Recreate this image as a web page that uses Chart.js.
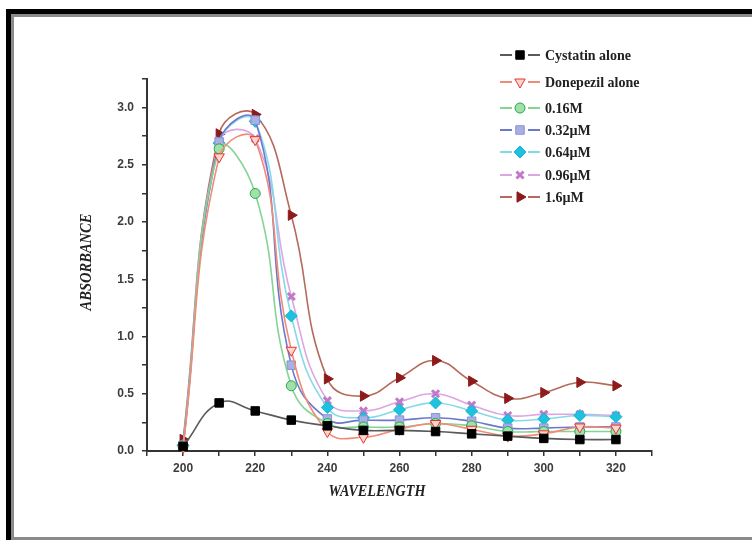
<!DOCTYPE html>
<html>
<head>
<meta charset="utf-8">
<title>Absorbance vs wavelength</title>
<script src="https://cdn.jsdelivr.net/npm/chart.js@4.4.1/dist/chart.umd.min.js"></script>
<style>
  html, body { margin: 0; padding: 0; background: #fff; overflow: hidden; }
  #wrap { position: relative; width: 752px; height: 540px; overflow: hidden; background: #fff; }
  .frame-out { position: absolute; left: 6px; top: 9px; width: 800px; height: 600px;
    border-left: 5px solid #000; border-top: 5px solid #000; }
  .frame-in { position: absolute; left: 11px; top: 14px; width: 800px; height: 520px;
    border-left: 3px solid #8a8a8a; border-top: 3px solid #8a8a8a; border-bottom: 3px solid #8a8a8a; }
  #chart { position: absolute; left: 0; top: 0; }
</style>
</head>
<body>
<div id="wrap">
  <div class="frame-out"></div>
  <div class="frame-in"></div>
  <canvas id="chart" width="752" height="540"></canvas>
</div>
<script>
// wavelength (nm) and absorbance
var wavelengths = [200, 210, 220, 230, 240, 250, 260, 270, 280, 290, 300, 310, 320];

var seriesLabels = ['Cystatin alone', 'Donepezil alone', '0.16M', '0.32\u00b5M', '0.64\u00b5M', '0.96\u00b5M', '1.6\u00b5M'];

var cystatin  = [0.04, 0.42, 0.35, 0.27, 0.22, 0.18, 0.18, 0.17, 0.15, 0.13, 0.11, 0.10, 0.10];
var donepezil = [0.03, 2.57, 2.72, 0.88, 0.17, 0.12, 0.19, 0.24, 0.19, 0.13, 0.15, 0.21, 0.20];
var conc016   = [0.04, 2.64, 2.25, 0.57, 0.24, 0.21, 0.21, 0.24, 0.22, 0.17, 0.17, 0.17, 0.17];
var conc032   = [0.05, 2.70, 2.89, 0.75, 0.28, 0.27, 0.27, 0.29, 0.26, 0.20, 0.20, 0.21, 0.21];
var conc064   = [0.05, 2.69, 2.88, 1.18, 0.38, 0.29, 0.36, 0.42, 0.35, 0.27, 0.28, 0.31, 0.30];
var conc096   = [0.05, 2.71, 2.73, 1.35, 0.44, 0.35, 0.43, 0.50, 0.40, 0.31, 0.32, 0.32, 0.31];
var conc16    = [0.10, 2.77, 2.94, 2.06, 0.63, 0.48, 0.64, 0.79, 0.61, 0.46, 0.51, 0.60, 0.57];

var xTickLabels = [200, 220, 240, 260, 280, 300, 320];
var yTickLabels = [0.0, 0.5, 1.0, 1.5, 2.0, 2.5, 3.0];

var allSeries = [cystatin, donepezil, conc016, conc032, conc064, conc096, conc16];

// look of each series: line colour, marker fill, marker edge, marker shape
var looks = [
  { line: '#5a5a5a', fill: '#000000', edge: '#000000', shape: 'rect', rot: 0, r: 6 },
  { line: '#f28a78', fill: '#ffd6cf', edge: '#e8332a', shape: 'triangle', rot: 180, r: 6 },
  { line: '#86d494', fill: '#9fe0ad', edge: '#22a845', shape: 'circle', rot: 0, r: 5 },
  { line: '#6c78cc', fill: '#a9b0e4', edge: '#8891d6', shape: 'rect', rot: 0, r: 6 },
  { line: '#86d9e8', fill: '#1cc2de', edge: '#14b4d0', shape: 'rectRot', rot: 0, r: 6 },
  { line: '#dca6e2', fill: '#d49ad8', edge: '#c07ac8', shape: 'crossRot', rot: 0, r: 5 },
  { line: '#b56b5c', fill: '#8e1b1b', edge: '#8e1b1b', shape: 'triangle', rot: 90, r: 6 }
];

function makeSet(i) {
  var lk = looks[i];
  return {
    label: seriesLabels[i],
    data: wavelengths.map(function (w, k) { return { x: w, y: allSeries[i][k] }; }),
    borderColor: lk.line,
    borderWidth: 1.6,
    tension: 0.45,
    pointStyle: lk.shape,
    pointRotation: lk.rot,
    pointRadius: lk.r,
    pointBackgroundColor: lk.fill,
    pointBorderColor: lk.edge,
    pointBorderWidth: lk.shape === 'crossRot' ? 3 : 1,
    clip: false
  };
}

var datasets = [];
for (var i = 0; i < allSeries.length; i++) {
  datasets.push(makeSet(i));
}

// legend drawn in the upper right, line - marker - line like the original
var legendPlugin = {
  id: 'sideLegend',
  afterDraw: function (chart) {
    var ctx = chart.ctx;
    var rows = [55, 82, 108, 130, 152, 175, 197];
    ctx.save();
    chart.data.datasets.forEach(function (ds, i) {
      var y = rows[i];
      var lk = looks[i];
      ctx.strokeStyle = lk.line;
      ctx.lineWidth = 2;
      ctx.beginPath();
      ctx.moveTo(500, y); ctx.lineTo(512, y);
      ctx.moveTo(528, y); ctx.lineTo(540, y);
      ctx.stroke();
      ctx.fillStyle = lk.fill;
      ctx.strokeStyle = lk.edge;
      ctx.lineWidth = lk.shape === 'crossRot' ? 3 : 1;
      Chart.helpers.drawPoint(ctx, { pointStyle: lk.shape, radius: lk.r, rotation: lk.rot, borderWidth: ctx.lineWidth }, 520, y);
      ctx.fillStyle = '#222';
      ctx.font = 'bold 14px "Liberation Serif", "Times New Roman", serif';
      ctx.textAlign = 'left';
      ctx.textBaseline = 'middle';
      ctx.fillText(ds.label, 545, y + 1);
    });
    ctx.restore();
  }
};

// axis titles, narrow bold italic
var titlePlugin = {
  id: 'axisTitles',
  afterDraw: function (chart) {
    var ctx = chart.ctx;
    ctx.save();
    ctx.fillStyle = '#222';
    ctx.font = 'bold italic 16px "Liberation Serif", "Times New Roman", serif';
    ctx.textAlign = 'center';
    ctx.textBaseline = 'middle';

    var t = 'WAVELENGTH';
    var k = 97 / ctx.measureText(t).width;
    ctx.save();
    ctx.translate(377, 492);
    ctx.scale(k, 1);
    ctx.fillText(t, 0, 0);
    ctx.restore();

    t = 'ABSORBANCE';
    k = 97 / ctx.measureText(t).width;
    ctx.save();
    ctx.translate(87, 262);
    ctx.rotate(-Math.PI / 2);
    ctx.scale(k, 1);
    ctx.fillText(t, 0, 0);
    ctx.restore();

    ctx.restore();
  }
};

var tickFont = { family: '"Liberation Sans", Arial, sans-serif', weight: 'bold', size: 12 };

new Chart(document.getElementById('chart').getContext('2d'), {
  type: 'line',
  data: { datasets: datasets },
  options: {
    responsive: false,
    animation: false,
    devicePixelRatio: 1,
    layout: { padding: { left: 0, right: 100, top: 79, bottom: 0 } },
    plugins: {
      legend: { display: false },
      tooltip: { enabled: false }
    },
    scales: {
      x: {
        type: 'linear',
        min: 190,
        max: 330,
        afterFit: function (s) { s.height = 89; },
        ticks: {
          stepSize: 10,
          autoSkip: false,
          maxRotation: 0,
          padding: 5,
          color: '#3c3c3c',
          font: tickFont,
          callback: function (v) {
            return xTickLabels.indexOf(v) >= 0 ? String(v) : '';
          }
        },
        grid: { drawOnChartArea: false, drawTicks: true, tickLength: 5, color: '#333', lineWidth: 1.5 },
        border: { color: '#333', width: 2 }
      },
      y: {
        min: 0,
        max: 3.25,
        afterFit: function (s) { s.width = 147; },
        ticks: {
          stepSize: 0.25,
          autoSkip: false,
          padding: 8,
          color: '#3c3c3c',
          font: tickFont,
          callback: function (v) {
            for (var j = 0; j < yTickLabels.length; j++) {
              if (Math.abs(yTickLabels[j] - v) < 1e-6) return yTickLabels[j].toFixed(1);
            }
            return '';
          }
        },
        grid: { drawOnChartArea: false, drawTicks: true, tickLength: 5, color: '#333', lineWidth: 1.5 },
        border: { color: '#333', width: 2 }
      }
    }
  },
  plugins: [legendPlugin, titlePlugin]
});
</script>
</body>
</html>
